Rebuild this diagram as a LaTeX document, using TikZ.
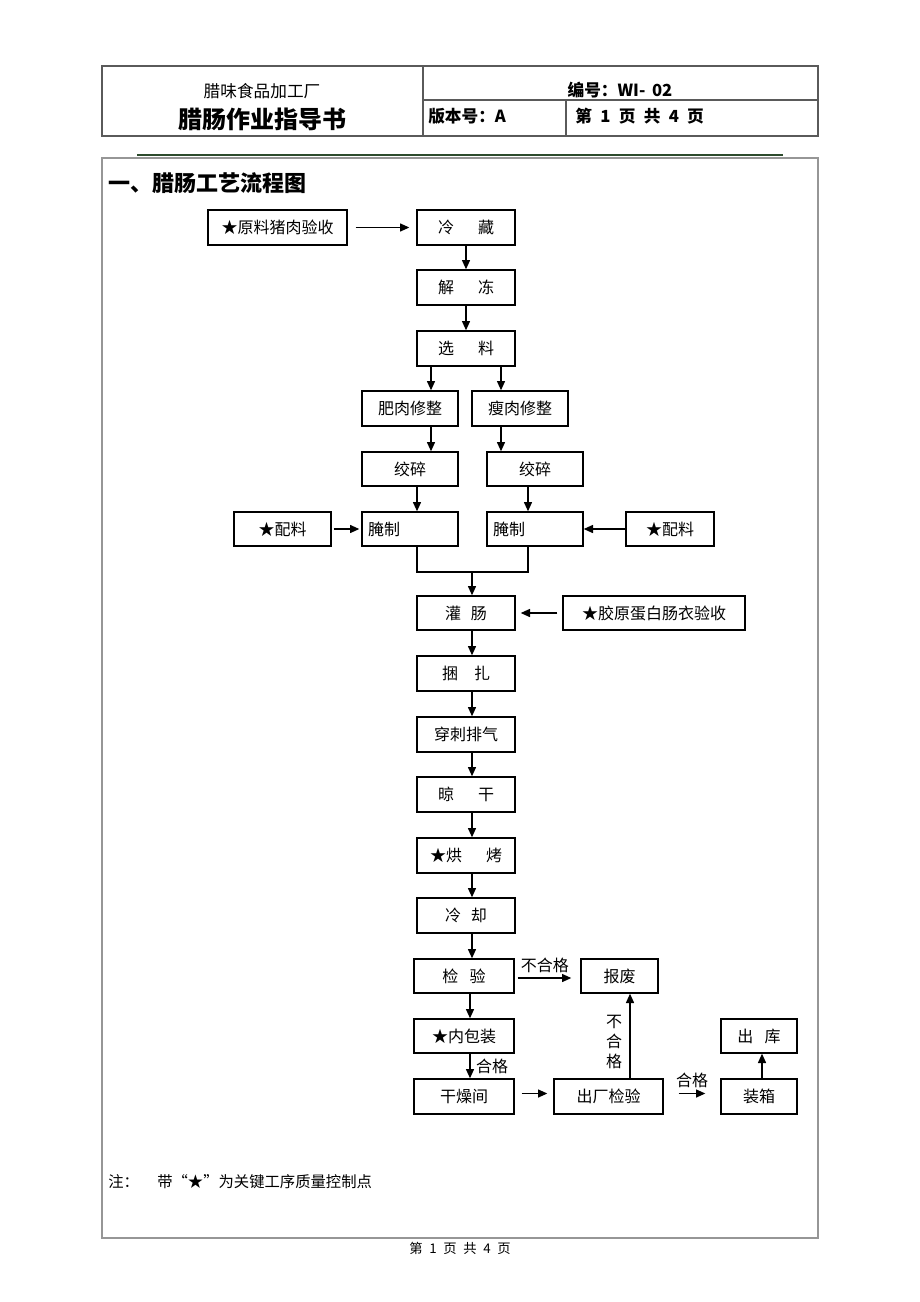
\documentclass[tikz,border=0pt]{standalone}
\usepackage{fontspec}
\setmainfont{Noto Sans CJK SC}
\usetikzlibrary{arrows.meta}
\definecolor{hdrgray}{RGB}{90,90,90}
\definecolor{framegray}{RGB}{150,150,150}
\definecolor{darkgreen}{RGB}{45,75,45}
\tikzset{
  box/.style={draw, line width=1pt, inner sep=0pt, font=\fontsize{12}{14}\selectfont},
  arr/.style={line width=1.1pt, -{Triangle[length=7pt,width=6pt]}},
  ln/.style={line width=1pt},
  lbl/.style={inner sep=0pt, font=\fontsize{12}{14}\selectfont},
}
\newcommand\bx[6]{\node[box, minimum width=#4*0.75pt, minimum height=#5*0.75pt] (#1) at (#2,#3) {#6};}
\begin{document}
\begin{tikzpicture}[x=0.75pt,y=-0.75pt]
\useasboundingbox (0,0) rectangle (920,1302);
\fill[white] (0,0) rectangle (920,1302);
% header
\draw[hdrgray, line width=0.8pt] (102,66) rectangle (818,136);
\draw[hdrgray, line width=0.8pt] (423,66) -- (423,136);
\draw[hdrgray, line width=0.8pt] (423,100) -- (818,100);
\draw[hdrgray, line width=0.8pt] (566,100) -- (566,136);
\node[lbl, font=\fontsize{12.5}{14}\selectfont] (company) at (262,91) {腊味食品加工厂};
\node[lbl, font=\fontsize{18}{20}\bfseries] (title) at (262,119) {腊肠作业指导书};
\node[lbl, font=\fontsize{12.5}{14}\bfseries] (code) at (620,90) {编号：WI-\hspace{0.4em}02};
\node[lbl, anchor=west, font=\fontsize{12.5}{14}\bfseries] (ver) at (428,116) {版本号：A};
\node[lbl, anchor=west, font=\fontsize{12.5}{14}\bfseries] (page) at (575,116) {第\hspace{0.5em}1\hspace{0.5em}页\hspace{0.5em}共\hspace{0.5em}4\hspace{0.5em}页};
\draw[darkgreen, line width=1.5pt] (137,155) -- (783,155);
\draw[framegray, line width=0.8pt] (102,158) rectangle (818,1238);
\node[lbl, anchor=west, font=\fontsize{16.5}{18}\bfseries] (heading) at (108,183) {一、腊肠工艺流程图};
% boxes
\bx{yl}{277.5}{227.5}{139}{35}{★原料猪肉验收}
\bx{lc}{466}{227.5}{98}{35}{冷\hspace{1.5em}藏}
\bx{jd}{466}{287.5}{98}{35}{解\hspace{1.5em}冻}
\bx{xl}{466}{348.5}{98}{35}{选\hspace{1.5em}料}
\bx{fr}{410}{408.5}{96}{35}{肥肉修整}
\bx{sr}{520}{408.5}{96}{35}{瘦肉修整}
\bx{jsa}{410}{469}{96}{34}{绞碎}
\bx{jsb}{535}{469}{96}{34}{绞碎}
\bx{pla}{282.5}{529}{97}{34}{★配料}
\node[box, minimum width=96*0.75pt, minimum height=34*0.75pt, text width=84*0.75pt, align=left, inner xsep=6*0.75pt] (yza) at (410,529) {腌制};
\node[box, minimum width=96*0.75pt, minimum height=34*0.75pt, text width=84*0.75pt, align=left, inner xsep=6*0.75pt] (yzb) at (535,529) {腌制};
\bx{plb}{670}{529}{88}{34}{★配料}
\bx{gc}{466}{613}{98}{34}{灌\hspace{0.6em}肠}
\bx{jy}{654}{613}{182}{34}{★胶原蛋白肠衣验收}
\bx{kz}{466}{673.5}{98}{35}{捆\hspace{1em}扎}
\bx{cc}{466}{734.5}{98}{35}{穿刺排气}
\bx{lg}{466}{794.5}{98}{35}{晾\hspace{1.5em}干}
\bx{hk}{466}{855.5}{98}{35}{★烘\hspace{1.5em}烤}
\bx{lq}{466}{915.5}{98}{35}{冷\hspace{0.6em}却}
\bx{jyan}{464}{976}{100}{34}{检\hspace{0.7em}验}
\bx{bf}{619.5}{976}{77}{34}{报废}
\bx{nbz}{464}{1036}{100}{34}{★内包装}
\bx{gzj}{464}{1096.5}{100}{35}{干燥间}
\bx{ccj}{608.5}{1096.5}{109}{35}{出厂检验}
\bx{ck}{759}{1036}{76}{34}{出\hspace{0.7em}库}
\bx{zx}{759}{1096.5}{76}{35}{装箱}
% helper coordinates
\coordinate (xa) at (431,0);
\coordinate (xb) at (501,0);
\coordinate (xc) at (417,0);
\coordinate (xd) at (528,0);
\coordinate (xe) at (472,0);
\coordinate (xf) at (470,0);
\coordinate (xg) at (630,0);
\coordinate (xh) at (762,0);
\coordinate (m1) at (417,572);
\coordinate (m2) at (528,572);
\coordinate (mc) at (472,572);
% arrows
\draw[arr, shorten <=8*0.75pt, shorten >=7*0.75pt] (yl.east) -- (lc.west);
\draw[arr] (lc.south) -- (jd.north);
\draw[arr] (jd.south) -- (xl.north);
\draw[arr] (xl.south -| xa) -- (fr.north -| xa);
\draw[arr] (xl.south -| xb) -- (sr.north -| xb);
\draw[arr] (fr.south -| xa) -- (jsa.north -| xa);
\draw[arr] (sr.south -| xb) -- (jsb.north -| xb);
\draw[arr] (jsa.south -| xc) -- (yza.north -| xc);
\draw[arr] (jsb.south -| xd) -- (yzb.north -| xd);
\draw[arr, shorten <=2*0.75pt, shorten >=2*0.75pt] (pla.east) -- (yza.west);
\draw[arr] (plb.west) -- (yzb.east);
\draw[ln] (yza.south -| xc) -- (m1) -- (m2) -- (yzb.south -| xd);
\draw[arr] (mc) -- (gc.north -| xe);
\draw[arr, shorten <=5*0.75pt, shorten >=5*0.75pt] (jy.west) -- (gc.east);
\draw[arr] (gc.south -| xe) -- (kz.north -| xe);
\draw[arr] (kz.south -| xe) -- (cc.north -| xe);
\draw[arr] (cc.south -| xe) -- (lg.north -| xe);
\draw[arr] (lg.south -| xe) -- (hk.north -| xe);
\draw[arr] (hk.south -| xe) -- (lq.north -| xe);
\draw[arr] (lq.south -| xe) -- (jyan.north -| xe);
\draw[arr, shorten <=3*0.75pt, shorten >=9*0.75pt] ([yshift=-2*0.75pt]jyan.east) -- ([yshift=-2*0.75pt]jyan.east -| bf.west) node[lbl, midway, above=3pt, xshift=-2pt] (bhg1) {不合格};
\draw[arr] (jyan.south -| xf) -- (nbz.north -| xf);
\draw[arr] (nbz.south -| xf) -- (gzj.north -| xf) node[lbl, midway, right=4pt] (hg1) {合格};
\draw[arr, shorten <=7*0.75pt, shorten >=6*0.75pt] ([yshift=3*0.75pt]gzj.east) -- ([yshift=3*0.75pt]gzj.east -| ccj.west);
\draw[arr] (ccj.north -| xg) -- (bf.south -| xg);
\node[lbl, align=center, font=\fontsize{12}{15}\selectfont] (bhg2) at (614,1042) {不\\合\\格};
\draw[arr, shorten <=15*0.75pt, shorten >=15*0.75pt] ([yshift=3*0.75pt]ccj.east) -- ([yshift=3*0.75pt]ccj.east -| zx.west) node[lbl, midway, above=4pt] (hg2) {合格};
\draw[arr] (zx.north -| xh) -- (ck.south -| xh);
% notes
\node[lbl, anchor=west, font=\fontsize{11.5}{13}\selectfont] (note) at (108,1182) {注：\hspace{1.2em}带“★”为关键工序质量控制点};
\node[lbl, font=\fontsize{10}{12}\selectfont] (foot) at (460,1248) {第\hspace{0.5em}1\hspace{0.5em}页\hspace{0.5em}共\hspace{0.5em}4\hspace{0.5em}页};
\end{tikzpicture}
\end{document}
